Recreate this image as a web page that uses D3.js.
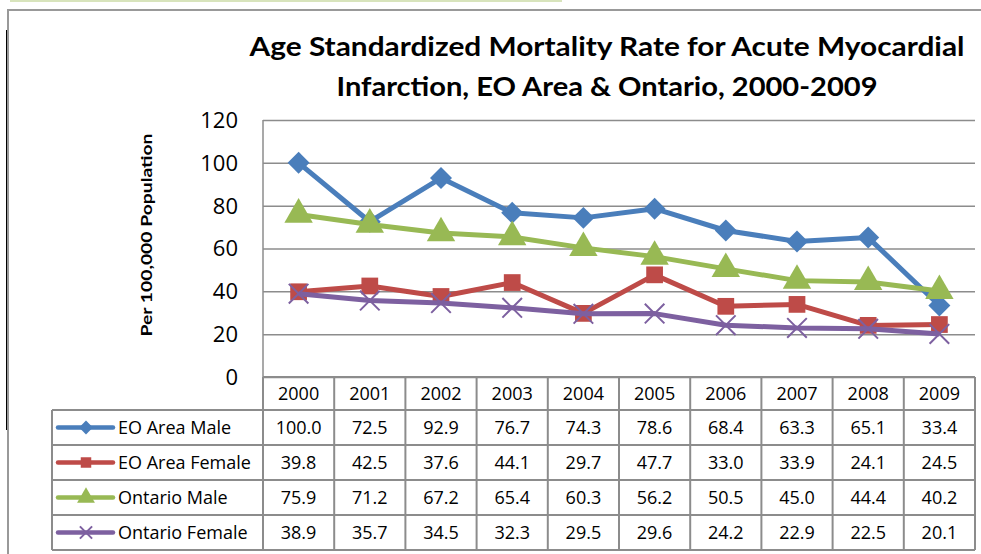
<!DOCTYPE html>
<html>
<head>
<meta charset="utf-8">
<script src="https://cdn.jsdelivr.net/npm/d3@7"></script>
<style>
  body { margin: 0; background: #fff; }
  svg text { font-family: "Open Sans", sans-serif; fill: #000; }
  svg text.bold { font-family: Lato, "Open Sans", sans-serif; font-weight: bold; }
</style>
</head>
<body>
<svg width="981" height="554"></svg>
<script>
// chart data
const years = ['2000', '2001', '2002', '2003', '2004', '2005', '2006', '2007', '2008', '2009']
const seriesNames = ['EO Area Male', 'EO Area Female', 'Ontario Male', 'Ontario Female']
const eoMale = [100.0, 72.5, 92.9, 76.7, 74.3, 78.6, 68.4, 63.3, 65.1, 33.4]
const eoFemale = [39.8, 42.5, 37.6, 44.1, 29.7, 47.7, 33.0, 33.9, 24.1, 24.5]
const onMale = [75.9, 71.2, 67.2, 65.4, 60.3, 56.2, 50.5, 45.0, 44.4, 40.2]
const onFemale = [38.9, 35.7, 34.5, 32.3, 29.5, 29.6, 24.2, 22.9, 22.5, 20.1]
const yTicks = [0, 20, 40, 60, 80, 100, 120]

const colors = ['#4a7ebb', '#be4b48', '#98b954', '#7d60a0']
const markers = ['diamond', 'square', 'triangle', 'cross']
const series = seriesNames.map((name, i) => ({
  name: name,
  values: [eoMale, eoFemale, onMale, onFemale][i],
  color: colors[i],
  marker: markers[i]
}))

const svg = d3.select('svg')

const plotLeft = 263, plotRight = 975, plotTop = 120, plotBottom = 377
const rowH = 35, headH = 33, legendLeft = 52

const x = d3.scaleBand().domain(years).range([plotLeft, plotRight]).paddingInner(0).paddingOuter(0)
const cx = (yr) => x(yr) + x.bandwidth() / 2
const y = d3.scaleLinear().domain([0, 120]).range([plotBottom, plotTop])

// frame bits
svg.append('line').attr('x1', 10).attr('x2', 562).attr('y1', 1).attr('y2', 1)
  .attr('stroke', '#d8e4bc').attr('stroke-width', 2)
svg.append('path').attr('d', 'M8,554 V10 H981')
  .attr('fill', 'none').attr('stroke', '#999').attr('stroke-width', 2)
svg.append('line').attr('x1', 6.5).attr('x2', 6.5).attr('y1', 30).attr('y2', 430)
  .attr('stroke', '#000').attr('stroke-width', 1)

// title
svg.append('text')
  .attr('class', 'bold')
  .attr('x', 607).attr('y', 56)
  .attr('text-anchor', 'middle')
  .attr('font-size', 27)
  .attr('textLength', 715).attr('lengthAdjust', 'spacingAndGlyphs')
  .text('Age Standardized Mortality Rate for Acute Myocardial')
svg.append('text')
  .attr('class', 'bold')
  .attr('x', 607).attr('y', 96)
  .attr('text-anchor', 'middle')
  .attr('font-size', 27)
  .attr('textLength', 541).attr('lengthAdjust', 'spacingAndGlyphs')
  .text('Infarction, EO Area & Ontario, 2000-2009')

// gridlines
svg.append('g')
  .attr('transform', `translate(${plotLeft},0)`)
  .call(d3.axisLeft(y).tickValues(yTicks).tickSize(-(plotRight - plotLeft)).tickFormat(''))
  .call(g => g.select('.domain').remove())
  .call(g => g.selectAll('line').attr('stroke', '#8c8c8c').attr('stroke-width', 1.5))

// y tick labels
svg.append('g')
  .selectAll('text')
  .data(yTicks)
  .enter()
  .append('text')
  .attr('x', 238)
  .attr('y', d => y(d))
  .attr('dy', '0.36em')
  .attr('text-anchor', 'end')
  .attr('font-size', 22)
  .text(d => d)

// y axis title
svg.append('text')
  .attr('class', 'bold')
  .attr('transform', 'translate(152, 235) rotate(-90)')
  .attr('text-anchor', 'middle')
  .attr('font-size', 16)
  .attr('textLength', 203).attr('lengthAdjust', 'spacingAndGlyphs')
  .text('Per 100,000 Population')

// y axis line
svg.append('line').attr('x1', plotLeft).attr('x2', plotLeft).attr('y1', plotTop).attr('y2', plotBottom)
  .attr('stroke', '#8c8c8c').attr('stroke-width', 1.5)

// data table
const tableBottom = plotBottom + headH + rowH * series.length
const table = svg.append('g').attr('stroke', '#8c8c8c').attr('stroke-width', 2).attr('fill', 'none')
// vertical lines between years
table.selectAll('line.v')
  .data(years.concat(['end']))
  .enter()
  .append('line')
  .attr('x1', d => d === 'end' ? plotRight : x(d))
  .attr('x2', d => d === 'end' ? plotRight : x(d))
  .attr('y1', plotBottom).attr('y2', tableBottom)
table.append('line').attr('x1', legendLeft).attr('x2', legendLeft)
  .attr('y1', plotBottom + headH).attr('y2', tableBottom)
// horizontal lines
table.append('line').attr('x1', plotLeft).attr('x2', plotRight).attr('y1', plotBottom).attr('y2', plotBottom)
d3.range(series.length + 1).forEach(i => {
  const yy = plotBottom + headH + i * rowH
  table.append('line').attr('x1', legendLeft).attr('x2', plotRight).attr('y1', yy).attr('y2', yy)
})

// year headers
svg.append('g').selectAll('text')
  .data(years)
  .enter()
  .append('text')
  .attr('x', d => cx(d))
  .attr('y', plotBottom + headH / 2)
  .attr('dy', '0.36em')
  .attr('text-anchor', 'middle')
  .attr('font-size', 18)
  .text(d => d)

// marker shapes
function drawMarker(g, type, color, size) {
  if (type === 'diamond') {
    g.append('path').attr('d', d3.symbol().type(d3.symbolDiamond2).size(size * 1.1)())
      .attr('fill', color)
  } else if (type === 'square') {
    g.append('path').attr('d', d3.symbol().type(d3.symbolSquare).size(size)())
      .attr('fill', color)
  } else if (type === 'triangle') {
    g.append('path').attr('d', d3.symbol().type(d3.symbolTriangle).size(size * 1.25)())
      .attr('fill', color)
  } else {
    g.append('path').attr('d', d3.symbol().type(d3.symbolTimes).size(size * 0.9)())
      .attr('fill', 'none').attr('stroke', color).attr('stroke-width', 2)
  }
}

// value rows and legend keys
series.forEach((s, i) => {
  const rowY = plotBottom + headH + i * rowH + rowH / 2
  const key = svg.append('g')
  key.append('line').attr('x1', 58).attr('x2', 113).attr('y1', rowY).attr('y2', rowY)
    .attr('stroke', s.color).attr('stroke-width', 4.5).attr('stroke-linecap', 'round')
  drawMarker(key.append('g').attr('transform', `translate(86,${rowY})`), s.marker, s.color, 110)
  svg.append('text')
    .attr('x', 118).attr('y', rowY).attr('dy', '0.36em')
    .attr('font-size', 18)
    .text(s.name)
  svg.append('g').selectAll('text')
    .data(s.values)
    .enter()
    .append('text')
    .attr('x', (d, j) => cx(years[j]))
    .attr('y', rowY).attr('dy', '0.36em')
    .attr('text-anchor', 'middle')
    .attr('font-size', 18)
    .text(d => d.toFixed(1))
})

// lines and markers
const line = d3.line().x((d, j) => cx(years[j])).y(d => y(d))
series.forEach(s => {
  const g = svg.append('g')
  g.append('path')
    .attr('d', line(s.values))
    .attr('fill', 'none')
    .attr('stroke', s.color)
    .attr('stroke-width', 5)
    .attr('stroke-linejoin', 'round')
  s.values.forEach((v, j) => {
    drawMarker(g.append('g').attr('transform', `translate(${cx(years[j])},${y(v)})`), s.marker, s.color, 280)
  })
})
</script>
</body>
</html>
